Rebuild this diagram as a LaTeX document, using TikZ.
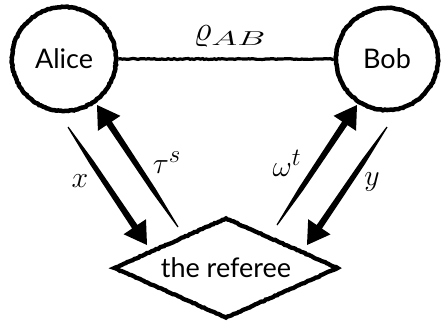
\documentclass[tikz,border=0pt]{standalone}
\usepackage{fontspec}
\newfontfamily\lblfont{Lato}
\usetikzlibrary{shapes.geometric,decorations.pathmorphing,calc}
\newcommand\mathlbl[2][1.2]{\scalebox{#1}{\fontsize{24.88}{30}\selectfont$#2$}}
\newcommand\widesub[1]{\hbox{\scalebox{1.75}[1]{\fontsize{14.4}{17}\selectfont$#1$}}}
\tikzset{
  rough/.style={decorate, decoration={random steps,segment length=2pt,amplitude=0.45pt}},
  party/.style={circle, draw, line width=4.5pt, inner sep=0pt, rough,
    font=\lblfont\fontsize{27}{32}\selectfont},
  referee/.style={diamond, draw, line width=4.3pt, inner sep=0pt, rough,
    minimum width=225pt, minimum height=101pt, aspect=2.2,
    font=\lblfont\fontsize{27}{32}\selectfont},
  mlabel/.style={inner sep=0pt},
  tapered/.style={to path={
    ($(\tikztostart)!0.6pt!90:(\tikztotarget)$)
    -- ($(\tikztostart)!0.3!(\tikztotarget)!2.5pt!90:(\tikztotarget)$)
    -- ($(\tikztotarget)!22pt!(\tikztostart)!3.2pt!-90:(\tikztostart)$)
    -- ($(\tikztotarget)!22pt!(\tikztostart)!13.5pt!-90:(\tikztostart)$)
    -- (\tikztotarget)
    -- ($(\tikztotarget)!22pt!(\tikztostart)!13.5pt!90:(\tikztostart)$)
    -- ($(\tikztotarget)!22pt!(\tikztostart)!3.2pt!90:(\tikztostart)$)
    -- ($(\tikztostart)!0.3!(\tikztotarget)!2.5pt!-90:(\tikztotarget)$)
    -- ($(\tikztostart)!0.6pt!-90:(\tikztotarget)$) -- cycle}}
}
\begin{document}
\begin{tikzpicture}[x=1pt,y=-1pt]
\useasboundingbox (0,0) rectangle (446,325);
\node[party, minimum size=104pt] (alice) at (64,59) {Alice};
\node[party, minimum size=102pt] (bob) at (387,59) {Bob};
\node[referee] (ref) at (226,268) {the referee};
\draw[line width=3.2pt, rough] (alice) -- (bob);
\node[mlabel] (lr) at (230,36) {\mathlbl[1.4]{\varrho_{\widesub{AB}}}};
\coordinate (xs) at (68,127);  \coordinate (xe) at (147,245);
\coordinate (ts) at (178,227); \coordinate (te) at (97,105);
\coordinate (ws) at (277,225); \coordinate (we) at (357,105);
\coordinate (ys) at (387,127); \coordinate (ye) at (307,245);
\fill (xs) to[tapered] (xe);
\fill (ts) to[tapered] (te);
\fill (ws) to[tapered] (we);
\fill (ys) to[tapered] (ye);
\node[mlabel] (lx) at (80,181) {\mathlbl{x}};
\node[mlabel] (lt) at (167,163) {\mathlbl{\tau^s}};
\node[mlabel] (lw) at (287,163) {\mathlbl{\omega^t}};
\node[mlabel] (ly) at (372,182) {\mathlbl{y}};
\end{tikzpicture}
\end{document}
